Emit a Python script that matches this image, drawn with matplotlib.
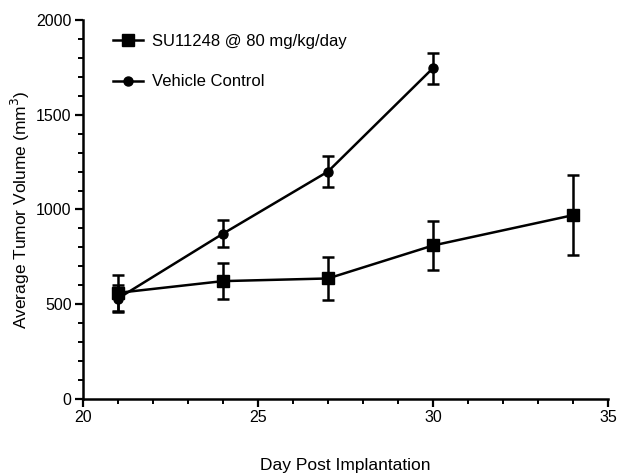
import numpy as np
import matplotlib.pyplot as plt
from matplotlib.ticker import MultipleLocator

plt.rcParams['font.family'] = ['Liberation Sans', 'DejaVu Sans']

su_days = [21, 24, 27, 30, 34]
su_mean = [560, 622, 636, 810, 970]
su_err = [95, 95, 115, 130, 210]

veh_days = [21, 24, 27, 30]
veh_mean = [530, 872, 1200, 1746]
veh_err = [70, 70, 80, 82]

fig = plt.figure(figsize=(6.18, 4.75), dpi=100)
ax = fig.add_axes([0.134, 0.16, 0.85, 0.798])

ax.errorbar(su_days, su_mean, yerr=su_err, color='black', marker='s', markersize=8,
            linewidth=1.8, elinewidth=1.8, capsize=4, capthick=1.8,
            label='SU11248 @ 80 mg/kg/day')
ax.errorbar(veh_days, veh_mean, yerr=veh_err, color='black', marker='o', markersize=6.5,
            linewidth=1.8, elinewidth=1.8, capsize=4, capthick=1.8,
            label='Vehicle Control')

ax.set_xlim(20, 35)
ax.set_ylim(0, 2000)
ax.xaxis.set_major_locator(MultipleLocator(5))
ax.xaxis.set_minor_locator(MultipleLocator(1))
ax.yaxis.set_major_locator(MultipleLocator(500))
ax.yaxis.set_minor_locator(MultipleLocator(100))
ax.spines['top'].set_visible(False)
ax.spines['right'].set_visible(False)
for s in ['left', 'bottom']:
    ax.spines[s].set_linewidth(1.8)
ax.tick_params(which='major', direction='out', length=6, width=1.6, labelsize=11.5, pad=2)
ax.tick_params(which='minor', direction='out', length=3.5, width=1.4)

ax.set_ylabel('Average Tumor Volume (mm$^3$)', fontsize=12.5, labelpad=3)
ax.set_xlabel('Day Post Implantation', fontsize=12.5, labelpad=24)

handles, labels = ax.get_legend_handles_labels()
handles = [h[0] for h in handles]
ax.legend(handles, labels, loc='upper left', bbox_to_anchor=(0.057, 0.964), frameon=False,
          borderaxespad=0, borderpad=0,
          fontsize=12, handlelength=1.8, labelspacing=1.55, handletextpad=0.55)

fig.savefig('out.png', dpi=100)
